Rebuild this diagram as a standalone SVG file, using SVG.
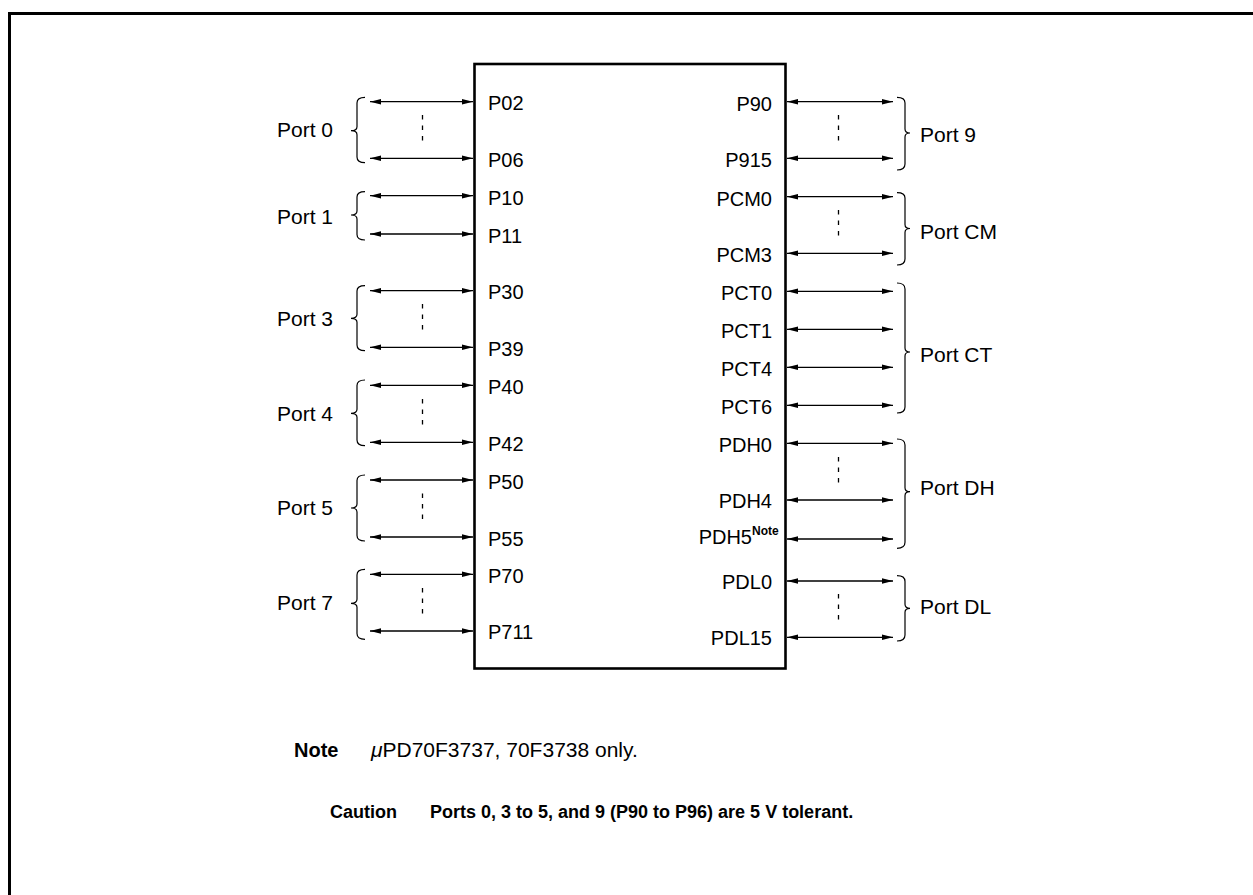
<svg xmlns="http://www.w3.org/2000/svg" width="1253" height="895" viewBox="0 0 1253 895">
<style>
text{font-family:"Liberation Sans",Arial,sans-serif;font-size:20px;fill:#000}
.r{text-anchor:end}
.b{font-weight:bold}
.pl{font-size:21px}
.ar{stroke:#000;stroke-width:1.3;fill:none;marker-start:url(#ah);marker-end:url(#ah)}
.br{stroke:#000;stroke-width:1.2;fill:none}
.ds{stroke:#000;stroke-width:1.3;stroke-dasharray:4.5 6}
</style>
<defs>
<marker id="ah" viewBox="0 0 11 6" refX="11" refY="3" markerWidth="11" markerHeight="6" orient="auto-start-reverse" markerUnits="userSpaceOnUse"><path d="M0,0.3 L11,3 L0,5.7 z" fill="#000"/></marker>
</defs>
<path d="M9.5,895 V13.5 H1253" fill="none" stroke="#000" stroke-width="3"/>
<g id="chip">
<rect x="474.5" y="64" width="311" height="604.5" fill="none" stroke="#000" stroke-width="2.6"/>
<text x="488" y="110">P02</text>
<text x="488" y="166.8">P06</text>
<text x="488" y="204.5">P10</text>
<text x="488" y="242.8">P11</text>
<text x="488" y="299">P30</text>
<text x="488" y="355.8">P39</text>
<text x="488" y="393.5">P40</text>
<text x="488" y="450.6">P42</text>
<text x="488" y="488.5">P50</text>
<text x="488" y="545.5">P55</text>
<text x="488" y="582.7">P70</text>
<text x="488" y="639.3">P711</text>
<text class="r" x="772" y="110.5">P90</text>
<text class="r" x="772" y="167">P915</text>
<text class="r" x="772" y="205.5">PCM0</text>
<text class="r" x="772" y="262">PCM3</text>
<text class="r" x="772" y="300">PCT0</text>
<text class="r" x="772" y="338">PCT1</text>
<text class="r" x="772" y="376">PCT4</text>
<text class="r" x="772" y="414">PCT6</text>
<text class="r" x="772" y="452">PDH0</text>
<text class="r" x="772" y="507.8">PDH4</text>
<text class="r" x="752" y="544.3">PDH5</text>
<text class="b" x="752" y="535" style="font-size:12px">Note</text>
<text class="r" x="772" y="588.5">PDL0</text>
<text class="r" x="772" y="645">PDL15</text>
</g>
<g id="connectors">
<line class="ar" x1="370" y1="101.7" x2="473" y2="101.7"/>
<line class="ar" x1="370" y1="158.3" x2="473" y2="158.3"/>
<line class="ar" x1="370" y1="195.7" x2="473" y2="195.7"/>
<line class="ar" x1="370" y1="234" x2="473" y2="234"/>
<line class="ar" x1="370" y1="290.7" x2="473" y2="290.7"/>
<line class="ar" x1="370" y1="347.3" x2="473" y2="347.3"/>
<line class="ar" x1="370" y1="385.3" x2="473" y2="385.3"/>
<line class="ar" x1="370" y1="442.3" x2="473" y2="442.3"/>
<line class="ar" x1="370" y1="480" x2="473" y2="480"/>
<line class="ar" x1="370" y1="537" x2="473" y2="537"/>
<line class="ar" x1="370" y1="574.3" x2="473" y2="574.3"/>
<line class="ar" x1="370" y1="631" x2="473" y2="631"/>
<line class="ar" x1="787" y1="101.7" x2="893" y2="101.7"/>
<line class="ar" x1="787" y1="158.3" x2="893" y2="158.3"/>
<line class="ar" x1="787" y1="196.7" x2="893" y2="196.7"/>
<line class="ar" x1="787" y1="253.3" x2="893" y2="253.3"/>
<line class="ar" x1="787" y1="291.3" x2="893" y2="291.3"/>
<line class="ar" x1="787" y1="329.3" x2="893" y2="329.3"/>
<line class="ar" x1="787" y1="367.3" x2="893" y2="367.3"/>
<line class="ar" x1="787" y1="405.3" x2="893" y2="405.3"/>
<line class="ar" x1="787" y1="443.3" x2="893" y2="443.3"/>
<line class="ar" x1="787" y1="500" x2="893" y2="500"/>
<line class="ar" x1="787" y1="539" x2="893" y2="539"/>
<line class="ar" x1="787" y1="581" x2="893" y2="581"/>
<line class="ar" x1="787" y1="637.3" x2="893" y2="637.3"/>
<line class="ds" x1="422.5" y1="115" x2="422.5" y2="141"/>
<line class="ds" x1="422.5" y1="304" x2="422.5" y2="330"/>
<line class="ds" x1="422.5" y1="399" x2="422.5" y2="425"/>
<line class="ds" x1="422.5" y1="493.5" x2="422.5" y2="519.5"/>
<line class="ds" x1="422.5" y1="588" x2="422.5" y2="614"/>
<line class="ds" x1="838.5" y1="115" x2="838.5" y2="141"/>
<line class="ds" x1="838.5" y1="210" x2="838.5" y2="236"/>
<line class="ds" x1="838.5" y1="457" x2="838.5" y2="483"/>
<line class="ds" x1="838.5" y1="594" x2="838.5" y2="620"/>
</g>
<g id="port0"><path class="br" d="M365,97.3 Q357,97.3 357,103 V126.7 Q357,130.7 351,130.7 Q357,130.7 357,134.7 V157 Q357,162.7 365,162.7"/><text class="pl" x="277" y="137">Port 0</text></g>
<g id="port1"><path class="br" d="M365,191.7 Q357,191.7 357,197 V211 Q357,215 351,215 Q357,215 357,219 V234.5 Q357,240 365,240"/><text class="pl" x="277" y="224">Port 1</text></g>
<g id="port3"><path class="br" d="M365,285.7 Q357,285.7 357,291 V314.3 Q357,318.3 351,318.3 Q357,318.3 357,322.3 V345 Q357,350.7 365,350.7"/><text class="pl" x="277" y="325.5">Port 3</text></g>
<g id="port4"><path class="br" d="M365,380 Q357,380 357,385.5 V409.3 Q357,413.3 351,413.3 Q357,413.3 357,417.3 V440 Q357,445.7 365,445.7"/><text class="pl" x="277" y="420.5">Port 4</text></g>
<g id="port5"><path class="br" d="M365,475 Q357,475 357,480.5 V504 Q357,508 351,508 Q357,508 357,512 V535.5 Q357,541 365,541"/><text class="pl" x="277" y="515">Port 5</text></g>
<g id="port7"><path class="br" d="M365,569.3 Q357,569.3 357,575 V599.3 Q357,603.3 351,603.3 Q357,603.3 357,607.3 V633.5 Q357,639.3 365,639.3"/><text class="pl" x="277" y="610">Port 7</text></g>
<g id="port9"><path class="br" d="M897,97.3 Q905,97.3 905,103 V129 Q905,133 910,133 Q905,133 905,137 V164 Q905,170 897,170"/><text class="pl" x="920" y="141.7">Port 9</text></g>
<g id="portCM"><path class="br" d="M897,192.7 Q905,192.7 905,198 V224.5 Q905,228.5 910,228.5 Q905,228.5 905,232.5 V259 Q905,265 897,265"/><text class="pl" x="920" y="238.5">Port CM</text></g>
<g id="portCT"><path class="br" d="M897,283 Q905,283 905,289 V348 Q905,352 910,352 Q905,352 905,356 V407 Q905,413 897,413"/><text class="pl" x="920" y="362">Port CT</text></g>
<g id="portDH"><path class="br" d="M897,439 Q905,439 905,445 V487.7 Q905,491.7 910,491.7 Q905,491.7 905,495.7 V542.3 Q905,548.3 897,548.3"/><text class="pl" x="920" y="495">Port DH</text></g>
<g id="portDL"><path class="br" d="M897,575.7 Q905,575.7 905,581.5 V604.3 Q905,608.3 910,608.3 Q905,608.3 905,612.3 V635 Q905,641 897,641"/><text class="pl" x="920" y="614.3">Port DL</text></g>
<g id="notes">
<text class="b" x="294" y="757">Note</text>
<text x="371" y="757" style="font-size:21px"><tspan font-style="italic">μ</tspan>PD70F3737, 70F3738 only.</text>
<text class="b" x="330" y="818.3" style="font-size:18px">Caution</text>
<text class="b" x="430" y="818.3" style="font-size:18px">Ports 0, 3 to 5, and 9 (P90 to P96) are 5 V tolerant.</text>
</g>
</svg>
